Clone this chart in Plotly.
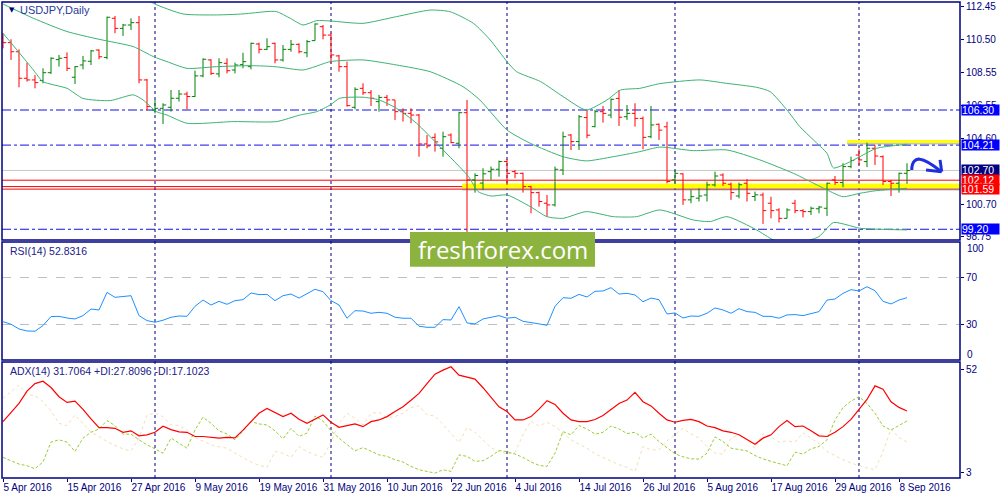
import numpy as np
import pandas as pd
import plotly.graph_objects as go

# trading days on the chart (one bar per business day)
dates = pd.bdate_range("2016-04-05", "2016-09-09")
idx = np.arange(len(dates))

# daily OHLC
open_ = [110.60, 110.31, 109.77, 108.19, 108.09, 108.05, 108.52, 109.30, 109.42, 108.25,
         108.98, 109.20, 109.87, 109.43, 111.76, 111.16, 111.36, 111.50, 108.09, 106.30,
         106.40, 106.46, 107.00, 107.25, 107.10, 108.33, 109.28, 108.45, 109.08, 108.68,
         109.00, 108.88, 110.23, 109.91, 110.27, 109.28, 109.91, 110.21, 109.71, 110.43,
         111.26, 110.76, 109.52, 108.88, 106.46, 107.59, 107.33, 106.80, 107.05, 106.90,
         106.20, 106.10, 106.00, 104.28, 104.67, 104.02, 104.81, 104.32, 106.14, 102.14,
         101.95, 102.63, 102.77, 103.23, 102.63, 102.53, 101.74, 101.38, 100.75, 100.65,
         102.73, 104.81, 104.42, 105.85, 105.31, 106.20, 106.00, 106.99, 105.90, 106.10,
         105.80, 104.71, 105.45, 105.30, 102.14, 102.50, 100.95, 101.05, 101.24, 101.84,
         102.43, 101.88, 101.18, 101.94, 101.15, 101.24, 100.75, 100.35, 99.85, 100.75,
         100.31, 100.25, 100.42, 100.45, 102.14, 101.98, 102.93, 103.62, 103.23, 104.02,
         103.52, 102.04, 101.94, 102.53]
high = [110.87, 110.51, 109.91, 109.12, 108.38, 108.78, 109.44, 109.58, 109.73, 108.92,
        109.52, 109.87, 109.91, 111.86, 111.90, 111.42, 111.76, 111.90, 108.15, 106.90,
        106.70, 107.49, 107.49, 107.39, 108.64, 109.38, 109.32, 109.38, 109.38, 109.12,
        109.71, 110.31, 110.31, 110.57, 110.31, 110.17, 110.47, 110.27, 110.47, 111.46,
        111.36, 110.87, 109.58, 109.18, 107.65, 107.89, 107.49, 107.20, 107.20, 106.90,
        106.40, 106.40, 106.06, 104.81, 104.91, 105.01, 104.91, 106.20, 106.90, 102.53,
        102.83, 102.93, 103.29, 103.37, 102.73, 102.57, 101.78, 101.44, 101.24, 102.93,
        105.01, 104.87, 106.00, 106.30, 106.30, 106.54, 106.98, 107.49, 106.60, 106.70,
        105.91, 106.54, 105.50, 105.60, 102.69, 102.53, 101.54, 101.64, 102.04, 102.63,
        102.53, 101.98, 101.98, 102.18, 101.44, 101.38, 101.14, 100.45, 100.45, 100.95,
        100.39, 100.55, 100.59, 101.98, 102.37, 103.13, 103.52, 103.96, 104.36, 104.20,
        103.60, 102.14, 102.57, 103.13]
low = [109.97, 109.28, 107.65, 107.99, 107.59, 107.89, 108.45, 108.88, 108.62, 107.85,
       108.72, 108.98, 109.32, 109.32, 110.87, 110.71, 111.06, 107.89, 106.28, 106.10,
       105.47, 106.20, 106.80, 106.34, 107.08, 108.25, 108.38, 108.25, 108.48, 108.48,
       108.78, 108.72, 109.67, 109.87, 109.08, 109.18, 109.77, 109.67, 109.44, 110.43,
       110.51, 109.08, 108.58, 106.50, 106.34, 107.20, 106.54, 106.20, 106.54, 105.71,
       105.61, 105.51, 103.52, 104.02, 103.82, 103.52, 104.32, 104.02, 99.02, 101.38,
       101.54, 102.14, 102.33, 101.84, 102.24, 101.38, 100.15, 100.55, 99.95, 100.55,
       102.43, 103.92, 103.92, 104.62, 105.27, 105.55, 105.81, 105.35, 105.71, 105.31,
       103.96, 104.62, 104.52, 101.94, 101.90, 100.65, 100.75, 100.85, 100.85, 101.74,
       101.78, 100.95, 101.04, 100.85, 100.88, 99.52, 99.85, 99.60, 99.85, 100.15,
       99.91, 100.05, 100.15, 99.99, 101.84, 101.70, 102.83, 103.03, 102.90, 103.03,
       101.84, 101.18, 101.38, 101.90]
close = [110.31, 109.77, 108.19, 108.09, 107.93, 108.52, 109.38, 109.38, 108.78, 108.88,
         109.22, 109.82, 109.47, 111.82, 111.16, 111.36, 111.50, 108.09, 106.50, 106.40,
         106.60, 107.00, 107.25, 107.10, 108.33, 109.32, 108.48, 109.12, 108.64, 108.98,
         109.18, 110.27, 109.91, 110.07, 109.28, 109.91, 110.21, 109.77, 110.37, 111.42,
         110.76, 109.58, 108.88, 106.56, 107.53, 107.33, 107.00, 107.05, 106.90, 106.20,
         106.10, 106.00, 104.28, 104.16, 104.40, 104.71, 104.36, 106.14, 102.14, 102.40,
         102.50, 102.77, 103.23, 102.53, 102.53, 101.74, 101.38, 100.85, 100.65, 102.77,
         104.71, 104.42, 105.90, 104.80, 106.20, 106.10, 106.94, 105.87, 106.10, 105.80,
         104.67, 105.41, 105.10, 102.04, 102.53, 100.95, 101.14, 101.18, 101.84, 102.37,
         101.94, 101.38, 101.85, 101.34, 101.25, 100.31, 100.31, 99.85, 100.35, 100.31,
         100.25, 100.45, 100.52, 101.94, 101.98, 102.93, 103.29, 103.33, 104.02, 103.56,
         102.04, 101.94, 102.53, 102.70]

# Bollinger bands, read at points along each curve (bar position, price)
bb_up_x = [14, 17, 18.8, 22.5, 26.7, 30, 33, 34.2, 35.9, 37.5, 39.2, 40.9, 45, 49.2, 53.4,
           55.9, 58.8, 60.9, 63, 64.2, 67.2, 70, 72.9, 75.5, 77.2, 79.6, 82.1, 87.1, 90.4,
           94.2, 95.9, 98, 99.6, 101.3, 103, 103.8, 105.5, 107.1, 109.2, 113]
bb_up_y = [113.8, 113.2, 112.65, 112.02, 111.96, 112.02, 112.16, 112.16, 111.76, 111.36,
           111.62, 111.6, 111.46, 111.86, 112.25, 112.15, 111.46, 110.47, 109.18, 108.58,
           107.99, 107.1, 106.3, 106.9, 107.49, 107.59, 107.87, 108.09, 107.89, 107.65,
           107.39, 106.30, 105.31, 104.52, 103.72, 102.85, 103.13, 103.52, 104.02, 104.26]
bb_mid_x = [0, 3.8, 8, 12, 16.3, 18.8, 20.5, 23, 26.7, 31, 34, 37.5, 39, 40.9, 45, 49.2,
            53.4, 57.5, 59.6, 63, 65.9, 70, 72.9, 76.3, 79.6, 82.1, 86.3, 90.5, 94.6, 98.8,
            100.9, 103, 105, 107.1, 109.2, 113]
bb_mid_y = [112.61, 111.76, 110.97, 110.51, 110.07, 109.48, 109.18, 108.78, 108.88, 108.94,
            108.88, 108.68, 108.88, 109.18, 109.28, 108.98, 108.58, 107.69, 106.90, 105.11,
            104.32, 103.52, 103.27, 103.52, 103.82, 104.09, 103.88, 103.92, 103.33, 102.53,
            102.04, 101.54, 101.14, 101.34, 101.50, 101.64]
bb_low_x = [0, 2.1, 3.8, 5, 8, 10, 13.4, 16.3, 17.5, 19.2, 20.5, 23, 28.8, 34.2, 37.1, 39.2,
            40.9, 42.1, 45, 47, 49.2, 51.7, 54.6, 58.2, 59.4, 61, 63, 65.9, 68, 70, 72.9,
            76.3, 79.2, 82.1, 86.3, 88.4, 90.5, 94.2, 96.3, 98.5, 100.9, 102, 103.8, 105.5,
            107.1, 113]
bb_low_y = [110.87, 109.67, 108.68, 107.99, 107.59, 106.99, 106.86, 107.2, 106.9, 106.2,
            106.0, 105.51, 105.61, 105.61, 106.0, 106.2, 106.6, 107.0, 107.06, 106.9, 106.4,
            105.51, 104.12, 102.33, 101.44, 101.18, 101.24, 100.55, 99.95, 99.85, 100.25,
            99.95, 99.95, 100.35, 99.75, 99.66, 99.95, 99.16, 98.56, 98.2, 98.56, 98.76,
            99.6, 99.46, 99.26, 99.16]

rsi = [32.5, 30.3, 26.3, 24.6, 24.4, 29.2, 36.8, 37.0, 35.6, 34.8,
       37.6, 43.2, 42.4, 57.3, 53.1, 53.9, 54.5, 37.6, 33.4, 32.0,
       33.7, 36.2, 37.3, 37.0, 45.5, 50.8, 46.6, 49.7, 47.2, 50.3,
       51.1, 56.8, 55.4, 55.6, 50.3, 54.5, 55.9, 52.5, 55.9, 59.9,
       57.9, 50.3, 46.6, 35.4, 41.8, 41.5, 39.6, 40.4, 39.6, 36.2,
       35.4, 35.4, 28.6, 27.7, 27.7, 34.2, 33.9, 45.2, 31.4, 30.6,
       34.8, 36.2, 37.6, 35.4, 36.2, 32.8, 31.4, 30.6, 29.4, 45.5,
       52.8, 52.3, 55.6, 53.4, 58.2, 58.5, 61.3, 55.9, 56.5, 55.1,
       49.4, 52.5, 51.1, 39.0, 39.9, 35.6, 37.3, 37.0, 39.6, 44.1,
       42.4, 39.6, 43.5, 41.0, 40.4, 37.0, 37.0, 35.4, 38.2, 38.5,
       37.6, 39.6, 41.0, 50.8, 51.7, 56.5, 59.6, 58.5, 62.1, 58.7,
       49.7, 47.5, 50.8, 52.8]

adx = [27.1, 31.5, 35.8, 41.7, 45.3, 46.4, 43.4, 39.0, 36.3, 36.9,
       33.0, 28.4, 24.2, 24.2, 23.9, 22.0, 22.7, 20.3, 20.8, 22.0,
       24.9, 23.3, 22.2, 22.0, 20.0, 20.0, 19.6, 19.2, 19.6, 19.3,
       23.0, 27.1, 31.1, 33.4, 31.5, 29.5, 31.1, 28.2, 26.3, 28.4,
       30.3, 26.8, 24.4, 25.2, 26.0, 24.7, 27.1, 27.9, 29.5, 31.9,
       34.2, 37.3, 40.6, 45.3, 49.8, 51.7, 53.3, 49.3, 48.4, 47.4,
       43.3, 39.0, 34.2, 31.9, 27.9, 27.9, 29.5, 33.1, 37.1, 35.3,
       31.1, 27.9, 27.1, 27.1, 28.1, 30.0, 32.7, 35.8, 37.4, 41.1,
       36.6, 34.6, 31.1, 27.9, 26.8, 27.7, 28.2, 27.1, 25.0, 24.2,
       22.7, 22.0, 20.8, 18.4, 16.3, 19.2, 20.8, 24.7, 27.6, 24.7,
       25.0, 22.7, 20.3, 20.0, 22.0, 24.7, 28.2, 33.0, 37.7, 44.2,
       42.6, 36.6, 33.9, 32.2]
plus_di = [10.0, 8.4, 6.8, 6.0, 4.6, 7.8, 17.3, 18.4, 17.3, 12.8,
           19.2, 22.0, 23.6, 27.6, 25.2, 21.1, 21.1, 18.4, 16.0, 14.1,
           12.0, 19.2, 16.8, 14.4, 23.1, 29.2, 26.3, 22.7, 21.2, 18.4,
           22.7, 27.1, 26.0, 25.5, 22.7, 18.9, 23.9, 20.0, 21.6, 29.8,
           27.4, 22.7, 19.2, 16.3, 13.1, 14.7, 12.8, 11.2, 10.5, 8.9,
           7.8, 5.7, 4.1, 3.3, 2.5, 4.1, 3.3, 11.2, 10.5, 8.1,
           8.4, 10.5, 13.3, 12.7, 11.6, 10.0, 7.8, 6.2, 5.7, 12.0,
           22.3, 20.8, 25.2, 23.6, 21.1, 22.0, 25.0, 23.6, 21.4, 22.0,
           19.2, 21.1, 17.6, 14.6, 11.7, 10.3, 9.3, 9.2, 12.0, 19.8,
           17.6, 14.4, 13.6, 13.1, 10.9, 9.3, 8.1, 7.0, 6.0, 12.5,
           11.6, 14.1, 15.2, 18.4, 27.9, 33.8, 36.9, 39.0, 35.8, 31.1,
           25.0, 23.1, 25.2, 27.4]
minus_di = [38.2, 41.4, 44.5, 40.1, 39.5, 36.6, 32.2, 26.3, 25.2, 30.3,
            26.3, 22.0, 20.0, 17.6, 15.7, 14.1, 13.1, 19.2, 30.3, 31.1,
            29.5, 25.5, 25.2, 23.1, 19.5, 17.9, 16.0, 15.1, 14.4, 12.0,
            9.7, 7.8, 6.2, 5.2, 12.8, 12.0, 10.0, 15.2, 12.8, 11.2,
            10.0, 17.3, 26.3, 31.1, 28.7, 25.5, 31.1, 31.5, 29.0, 29.5,
            31.1, 33.8, 34.7, 30.3, 29.8, 25.8, 21.6, 17.0, 24.2, 22.0,
            18.4, 14.7, 12.8, 11.6, 12.4, 20.8, 27.4, 25.0, 26.8, 24.7,
            21.7, 18.4, 16.3, 14.4, 11.7, 10.0, 8.1, 6.5, 5.2, 3.3,
            15.2, 13.6, 13.6, 17.9, 20.8, 23.9, 21.2, 19.2, 15.2, 12.0,
            11.6, 19.2, 20.8, 18.4, 14.4, 21.4, 19.8, 17.3, 17.9, 17.3,
            21.7, 19.2, 16.6, 12.8, 10.8, 8.9, 7.3, 6.0, 4.9, 4.1,
            12.8, 23.6, 19.5, 17.3]

price_ticks = [112.45, 110.50, 108.55, 106.55, 104.60, 100.70, 98.75]
blue_levels = [106.30, 104.21, 99.20]
red_levels = [102.12, 101.74, 101.59]
last_price = 102.70

NAVY = "#000080"
FONT = "Liberation Sans, Arial, sans-serif"
X_MIN, X_MAX = -0.125, 119.625
MAIN_DOM = [0.5, 1.0]
RSI_DOM = [0.2479, 0.4958]
ADX_DOM = [0.0, 0.2437]

fig = go.Figure()

fig.add_trace(go.Ohlc(x=idx, open=open_, high=high, low=low, close=close,
                      increasing=dict(line=dict(color="#008000", width=1)),
                      decreasing=dict(line=dict(color="#ff0000", width=1)),
                      tickwidth=0.4, xaxis="x", yaxis="y", showlegend=False))
for bx, by in [(bb_up_x, bb_up_y), (bb_mid_x, bb_mid_y), (bb_low_x, bb_low_y)]:
    fig.add_trace(go.Scatter(x=bx, y=by, mode="lines", yaxis="y",
                             line=dict(color="#3cb371", width=1, shape="spline", smoothing=0.6),
                             showlegend=False))

fig.add_trace(go.Scatter(x=idx, y=rsi, mode="lines", yaxis="y2",
                         line=dict(color="#1e90ff", width=1), showlegend=False))

fig.add_trace(go.Scatter(x=idx, y=minus_di, mode="lines", yaxis="y3",
                         line=dict(color="#f5deb3", width=1, dash="dot"), showlegend=False))
fig.add_trace(go.Scatter(x=idx, y=plus_di, mode="lines", yaxis="y3",
                         line=dict(color="#9acd32", width=1, dash="3px,2px"), showlegend=False))
fig.add_trace(go.Scatter(x=idx, y=adx, mode="lines", yaxis="y3",
                         line=dict(color="#ff0000", width=1.2), showlegend=False))

shapes = []
# yellow highlight zones with a soft shadow
shapes.append(dict(type="rect", xref="x", yref="y", x0=57.4, x1=X_MAX, y0=101.50, y1=101.64,
                   fillcolor="rgba(120,120,120,0.45)", line_width=0, layer="below"))
shapes.append(dict(type="rect", xref="x", yref="y", x0=57.4, x1=X_MAX, y0=101.64, y1=101.93,
                   fillcolor="#ffff00", line_width=0, layer="below"))
shapes.append(dict(type="rect", xref="x", yref="y", x0=105.5, x1=X_MAX, y0=104.24, y1=104.33,
                   fillcolor="rgba(120,120,120,0.45)", line_width=0, layer="below"))
shapes.append(dict(type="rect", xref="x", yref="y", x0=105.5, x1=X_MAX, y0=104.33, y1=104.52,
                   fillcolor="#ffff00", line_width=0, layer="below"))

shapes.append(dict(type="line", xref="paper", yref="y", x0=0, x1=1, y0=last_price, y1=last_price,
                   line=dict(color="#c8c8c8", width=1), layer="below"))
for lv in red_levels:
    shapes.append(dict(type="line", xref="paper", yref="y", x0=0, x1=1, y0=lv, y1=lv,
                       line=dict(color="#ff0000", width=1), layer="below"))
for lv in blue_levels:
    shapes.append(dict(type="line", xref="paper", yref="y", x0=0, x1=1, y0=lv, y1=lv,
                       line=dict(color="#1010e8", width=1, dash="9px,3px,3px,3px"), layer="below"))

# month separators
month_starts = [i for i in range(1, len(dates)) if dates[i].month != dates[i - 1].month]
for i in month_starts:
    shapes.append(dict(type="line", xref="x", yref="paper", x0=i, x1=i, y0=0, y1=1,
                       line=dict(color=NAVY, width=1, dash="3px,3px"), layer="below"))

# panel frames
for dom in [MAIN_DOM, RSI_DOM, ADX_DOM]:
    shapes.append(dict(type="rect", xref="paper", yref="paper", x0=0, x1=1, y0=dom[0], y1=dom[1],
                       line=dict(color=NAVY, width=1.5), fillcolor="rgba(0,0,0,0)"))

# hand drawn arrow
ARROW = "#1f2fe0"
shapes.append(dict(type="path", xref="x", yref="y",
                   path="M 113.59,102.73 C 113.6,103.3 114.2,103.4 114.63,103.37 "
                        "C 115.4,103.33 116.3,103.0 117.13,102.69",
                   line=dict(color=ARROW, width=3)))
shapes.append(dict(type="line", xref="x", yref="y", x0=117.13, y0=103.33, x1=117.34, y1=102.63,
                   line=dict(color=ARROW, width=3)))
shapes.append(dict(type="line", xref="x", yref="y", x0=115.38, y0=102.73, x1=117.34, y1=102.63,
                   line=dict(color=ARROW, width=3)))

# logo box
shapes.append(dict(type="rect", xref="paper", yref="paper", x0=0.4259, x1=0.619,
                   y0=0.4439, y1=0.5168, fillcolor="#8db33f", line_width=0, layer="above"))

annotations = []
price_boxes = [(106.30, "#0000ff"), (104.21, "#0000ff"), (last_price, "#000080"),
               (102.12, "#ff0000"), (101.59, "#ff0000"), (99.20, "#0000ff")]
for val, col in price_boxes:
    annotations.append(dict(x=1, xref="paper", y=val, yref="y", xanchor="left", yanchor="middle",
                            xshift=1, text=f"{val:.2f}", showarrow=False, bgcolor=col,
                            borderpad=0, width=37, height=10, align="left",
                            font=dict(family=FONT, size=10.5, color="white")))

annotations.append(dict(x=0.0052, xref="paper", y=0.983, yref="paper", xanchor="left",
                        yanchor="middle", text="▼", showarrow=False,
                        font=dict(family="DejaVu Sans", size=7, color=NAVY)))
annotations.append(dict(x=0.0167, xref="paper", y=0.983, yref="paper", xanchor="left",
                        yanchor="middle", text="USDJPY,Daily", showarrow=False,
                        font=dict(family=FONT, size=11, color="#2a3a9a")))
annotations.append(dict(x=0.0063, xref="paper", y=0.477, yref="paper", xanchor="left",
                        yanchor="middle", text="RSI(14) 52.8316", showarrow=False,
                        font=dict(family=FONT, size=10.5, color="#20208a")))
annotations.append(dict(x=0.0063, xref="paper", y=0.2248, yref="paper", xanchor="left",
                        yanchor="middle", text="ADX(14) 31.7064 +DI:27.8096 -DI:17.1023",
                        showarrow=False, font=dict(family=FONT, size=10.5, color="#20208a")))
# RSI scale end labels sit just inside the panel edges
annotations.append(dict(x=1, xref="paper", y=0.4811, yref="paper", xanchor="left", yanchor="middle",
                        xshift=5, text="100", showarrow=False,
                        font=dict(family=FONT, size=10, color=NAVY)))
annotations.append(dict(x=1, xref="paper", y=0.2605, yref="paper", xanchor="left", yanchor="middle",
                        xshift=5, text="0", showarrow=False,
                        font=dict(family=FONT, size=10, color=NAVY)))
annotations.append(dict(x=0.5225, xref="paper", y=0.4803, yref="paper", xanchor="center",
                        yanchor="middle", text="freshforex.com", showarrow=False,
                        font=dict(family="Open Sans", size=24, color="white")))

tick_idx = list(range(0, len(dates), 8))
tick_txt = [f"{dates[i].day} {dates[i]:%b %Y}" for i in tick_idx]

axis_font = dict(family=FONT, size=10, color=NAVY)
fig.update_layout(
    width=1000, height=500,
    margin=dict(l=2, r=40, t=2, b=22, autoexpand=False),
    paper_bgcolor="white", plot_bgcolor="white",
    hovermode=False,
    xaxis=dict(domain=[0, 1], range=[X_MIN, X_MAX], anchor="y3", tickvals=tick_idx,
               ticktext=tick_txt, ticks="outside", ticklen=3, tickcolor=NAVY, tickangle=0,
               ticklabelposition="outside right", tickfont=axis_font, showgrid=False,
               zeroline=False, showline=False, automargin=False,
               rangeslider=dict(visible=False)),
    yaxis=dict(domain=MAIN_DOM, range=[98.56, 112.73], side="right", anchor="x",
               tickvals=price_ticks, ticktext=[f"{v:.2f}" for v in price_ticks],
               ticks="outside", ticklen=3, tickcolor=NAVY, tickfont=axis_font,
               showgrid=False, zeroline=False, automargin=False),
    yaxis2=dict(domain=RSI_DOM, range=[0, 100], side="right", anchor="x",
                tickvals=[70, 30], ticks="outside", ticklen=3, tickcolor=NAVY,
                tickfont=axis_font, showgrid=True, gridcolor="#c0c0c0", griddash="dash",
                zeroline=False, automargin=False),
    yaxis3=dict(domain=ADX_DOM, range=[0.15, 55.6], side="right", anchor="x",
                tickvals=[52, 3], ticks="outside", ticklen=3, tickcolor=NAVY,
                tickfont=axis_font, showgrid=False, zeroline=False, automargin=False),
    shapes=shapes,
    annotations=annotations,
)

# drop the page's default body margin so the figure sits flush in the window
fig.write_html("out.html", config={"displayModeBar": False},
               post_script="document.body.style.margin='0';")
